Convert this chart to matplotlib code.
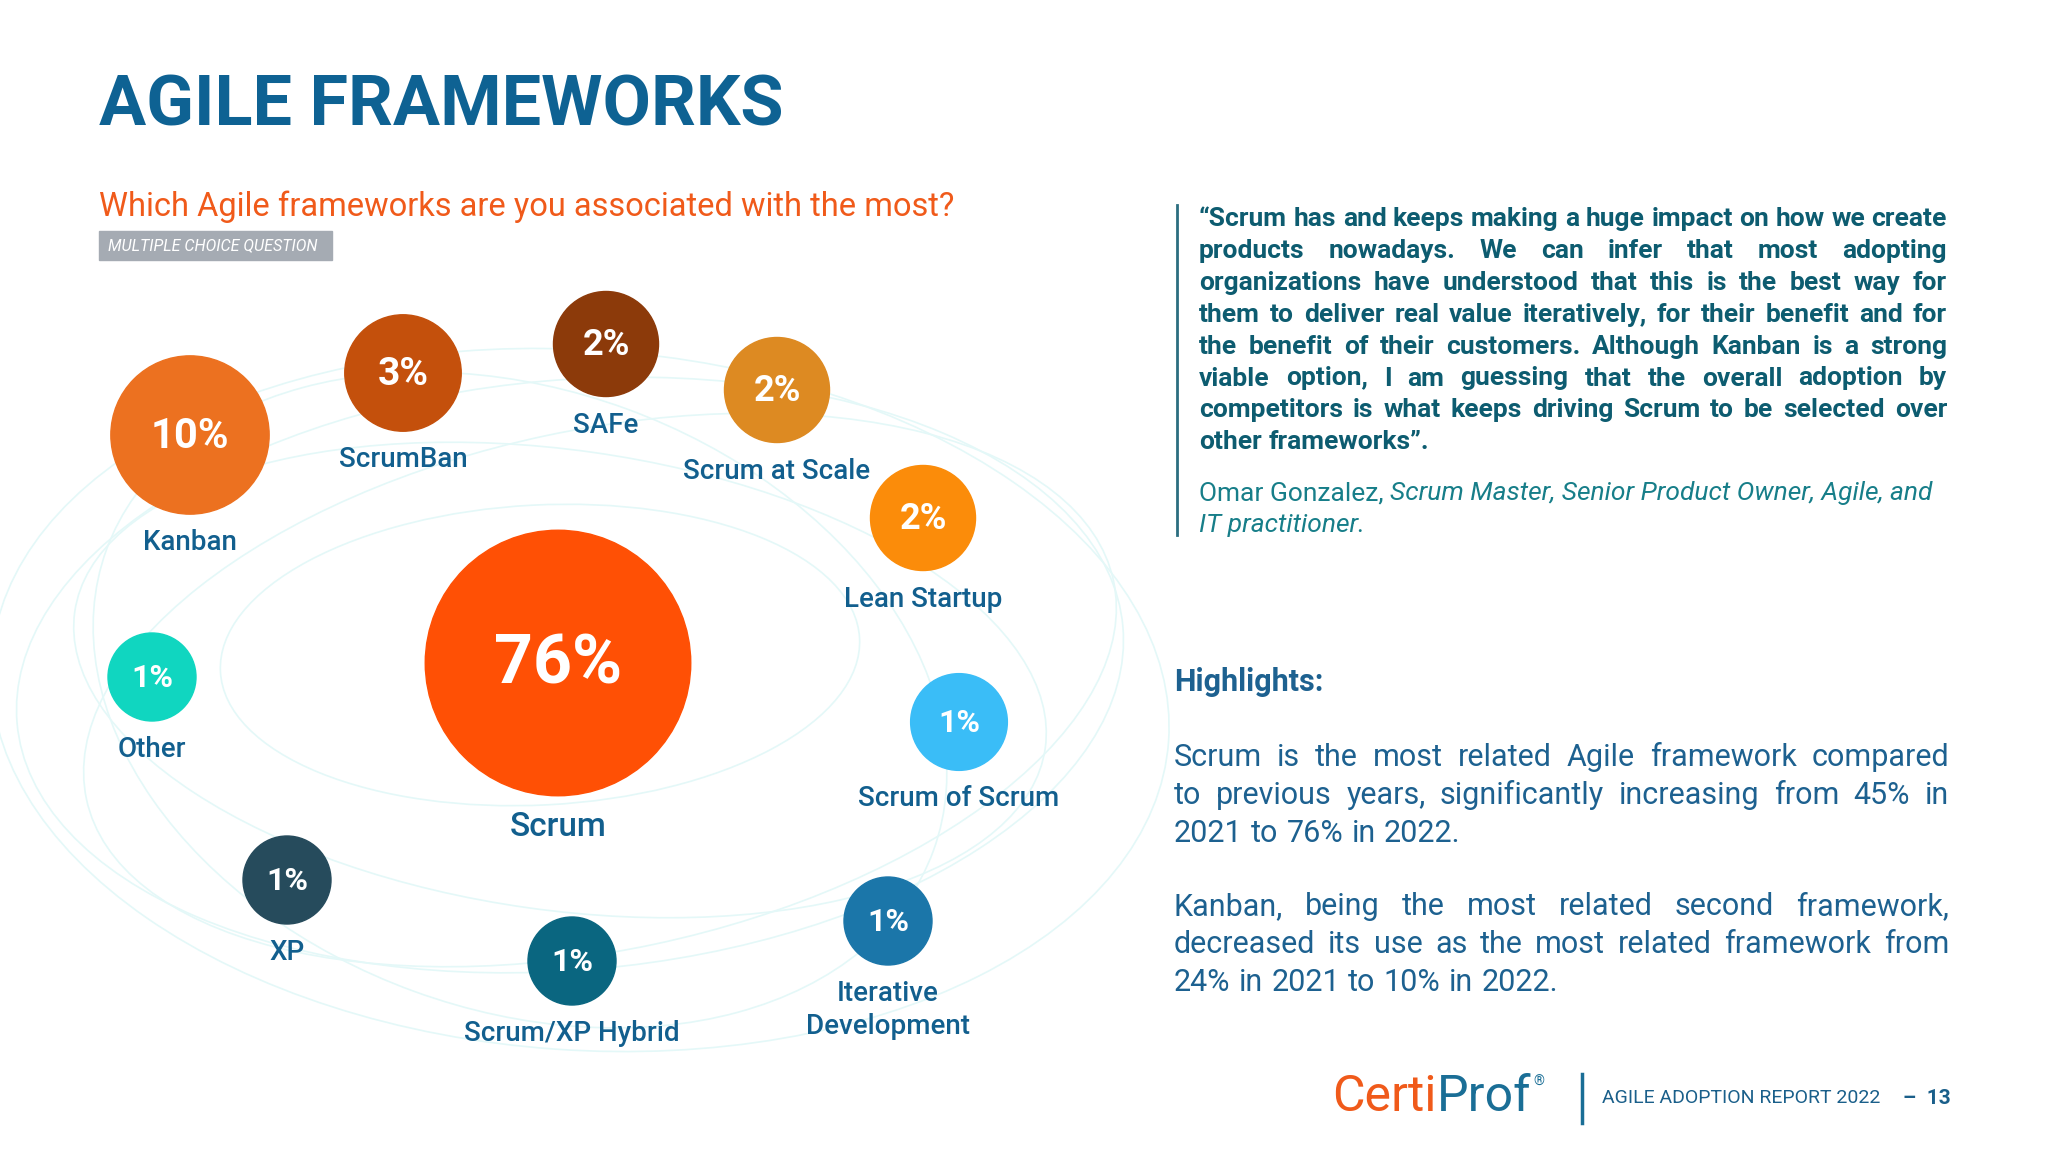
import numpy as np
import matplotlib.pyplot as plt
from matplotlib.patches import Circle, Ellipse, Rectangle

# ---------------- data ----------------
frameworks = ['Scrum', 'Kanban', 'ScrumBan', 'SAFe', 'Scrum at Scale', 'Lean Startup',
              'Other', 'Scrum of Scrum', 'XP', 'Scrum/XP Hybrid', 'Iterative\nDevelopment']
share = [76, 10, 3, 2, 2, 2, 1, 1.45, 1, 1, 1]   # % of respondents
colors = ['#FF5005', '#EC7120', '#C4500C', '#8C3A0A', '#DD8A22', '#FB8C0A',
          '#10D6C0', '#3ABDF7', '#264B5C', '#0A6680', '#1B76A9']

# bubble centres on the page (pixels)
bx = [558, 190, 403, 606, 777, 923, 152, 959, 287, 572, 888]
by = [663, 435, 373, 344, 390, 518, 677, 722, 880, 961, 921]
pct_size = [49, 30, 28, 26, 26, 26, 23, 23, 23, 23, 23]

quote_lines = [
    "\u201cScrum has and keeps making a huge impact on how we create",
    "products nowadays. We can infer that most adopting",
    "organizations have understood that this is the best way for",
    "them to deliver real value iteratively, for their benefit and for",
    "the benefit of their customers. Although Kanban is a strong",
    "viable option, I am guessing that the overall adoption by",
    "competitors is what keeps driving Scrum to be selected over",
    "other frameworks\u201d.",
]
para1 = ["Scrum is the most related Agile framework compared",
         "to previous years, significantly increasing from 45% in",
         "2021 to 76% in 2022."]
para2 = ["Kanban, being the most related second framework,",
         "decreased its use as the most related framework from",
         "24% in 2021 to 10% in 2022."]

BLUE = '#0E6293'
LBL = '#125F8E'
ORANGE = '#F05A1A'
FONT = 'Roboto'

fig = plt.figure(figsize=(20.48, 11.52), dpi=100)
ax = fig.add_axes([0, 0, 1, 1])
ax.set_xlim(0, 2048)
ax.set_ylim(1152, 0)
ax.axis('off')
renderer = fig.canvas.get_renderer()


def justify(lines, x0, x1, y0, dy, size, justify_last=False, **kw):
    # shrink until every line fits with a minimal word gap
    while True:
        px = size * 100 / 72
        rows = []
        ok = True
        for i, line in enumerate(lines):
            words = line.split()
            ts = [ax.text(0, y0 + i * dy, w, fontsize=size, va='baseline', ha='left', **kw) for w in words]
            ws = [t.get_window_extent(renderer).width for t in ts]
            if sum(ws) + (len(ws) - 1) * 0.18 * px > x1 - x0:
                ok = False
            rows.append((ts, ws))
        if ok:
            break
        for ts, ws in rows:
            for t in ts:
                t.remove()
        size *= 0.97
    for i, (ts, ws) in enumerate(rows):
        last = (i == len(rows) - 1) and not justify_last
        gap = 0.27 * px if (last or len(ws) == 1) else (x1 - x0 - sum(ws)) / (len(ws) - 1)
        x = x0
        for t, w in zip(ts, ws):
            t.set_x(x)
            x += w + gap
    return size


# faint orbit lines behind the bubbles
orbits = [(570, 675, 1110, 590, -5), (560, 680, 980, 460, 8), (540, 655, 640, 300, -3),
          (600, 690, 1050, 520, -12), (520, 700, 880, 620, 20), (580, 700, 1180, 700, 4)]
for cx, cy, w, h, a in orbits:
    ax.add_patch(Ellipse((cx, cy), w, h, angle=a, fill=False, ec='#E4F8F8', lw=1.2, zorder=0))

# bubbles
for name, v, c, x, y, fs in zip(frameworks, share, colors, bx, by, pct_size):
    r = 44 * v ** 0.255
    ax.add_patch(Circle((x, y), r, color=c, zorder=2))
    ax.text(x, y + fs * 0.05, '%d%%' % round(v), color='white', fontsize=fs, fontweight='bold',
            family=FONT, ha='center', va='center', zorder=3)
    ax.text(x, y + r + 15, name, color=LBL, fontsize=24 if name == 'Scrum' else 20,
            fontweight='medium', family=FONT, ha='center', va='top', linespacing=1.3, zorder=3)

# header
ax.text(99, 125, 'AGILE FRAMEWORKS', color=BLUE, fontsize=50.5, fontweight='bold',
        family=FONT, va='baseline')
ax.text(99, 216, 'Which Agile frameworks are you associated with the most?', color=ORANGE,
        fontsize=23.5, family=FONT, va='baseline')
ax.add_patch(Rectangle((99, 231), 233, 29, color='#A5ABB3', zorder=1))
ax.text(108, 246, 'MULTIPLE CHOICE QUESTION', color='white', fontsize=11.5, fontstyle='italic',
        family=FONT, va='center', zorder=2)

# quote
ax.plot([1177, 1177], [205, 535], color='#2B6E80', lw=2)
justify(quote_lines, 1199, 1947, 226, 31.9, 19, color='#0D5C70', fontweight='bold', family=FONT)
t = ax.text(1199, 500, 'Omar Gonzalez, ', color='#177E89', fontsize=19, family=FONT,
            va='baseline')
w = t.get_window_extent(renderer).width
ax.text(1199 + w, 500, 'Scrum Master, Senior Product Owner, Agile, and', color='#177E89',
        fontsize=19, family=FONT, fontstyle='italic', va='baseline')
ax.text(1199, 532, 'IT practitioner.', color='#177E89', fontsize=19, family=FONT,
        fontstyle='italic', va='baseline')

# highlights
ax.text(1174, 691, 'Highlights:', color='#1D6190', fontsize=22, fontweight='bold',
        family=FONT, va='baseline')
justify(para1, 1174, 1949, 766, 38, 22, color='#1D6190', family=FONT)
justify(para2, 1174, 1949, 915, 38, 22, color='#1D6190', family=FONT)

# footer
t = ax.text(1332, 1111, 'Certi', color=ORANGE, fontsize=36, family=FONT, va='baseline')
w = t.get_window_extent(renderer).width
t2 = ax.text(1332 + w, 1111, 'Prof', color='#1A6E96', fontsize=36, family=FONT, va='baseline')
w2 = t2.get_window_extent(renderer).width
ax.text(1332 + w + w2 + 2, 1086, '\u00ae', color='#1A6E96', fontsize=10, family=FONT, va='baseline')
ax.plot([1582, 1582], [1074, 1123], color='#1A6E96', lw=2.5)
ax.text(1602, 1098, 'AGILE ADOPTION REPORT 2022', color='#1A5F8A', fontsize=14,
        family=FONT, va='center')
ax.text(1951, 1098, '\u2013  13', color='#1A5F8A', fontsize=15, fontweight='bold',
        family=FONT, va='center', ha='right')

fig.savefig('out.png', dpi=100, facecolor='white')
